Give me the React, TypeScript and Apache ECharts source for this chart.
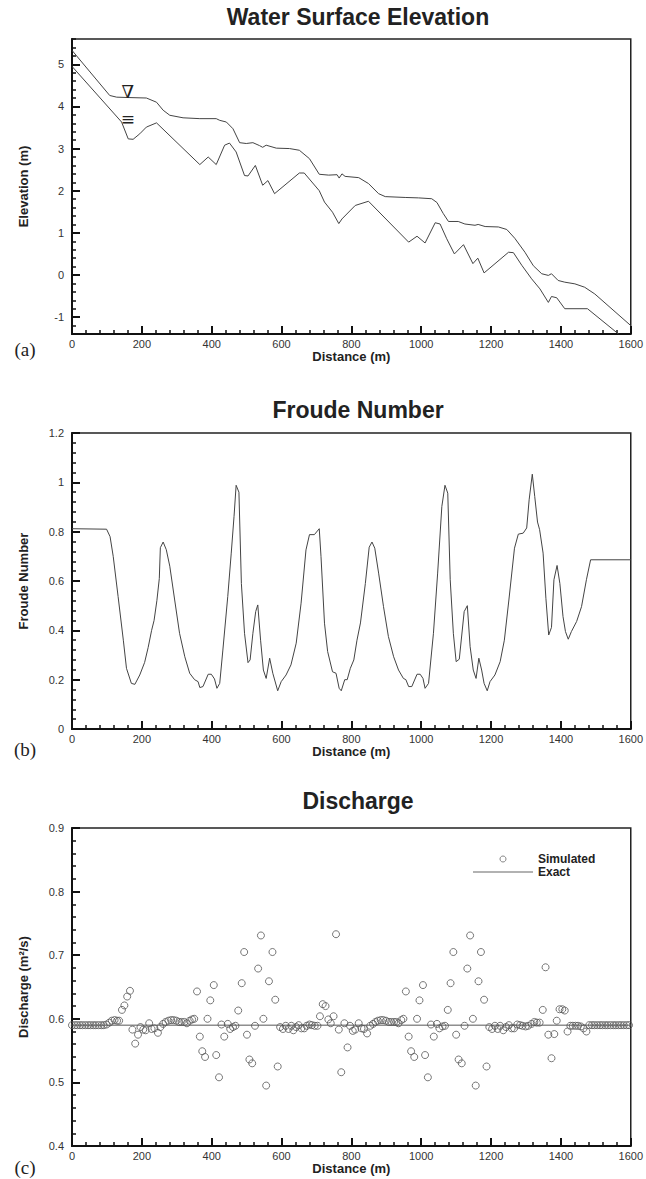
import React, { useEffect, useRef } from 'react';
import * as echarts from 'echarts';

const FONT = '"Liberation Sans", Arial, Helvetica, sans-serif';

const titles = ['Water Surface Elevation', 'Froude Number', 'Discharge'];
const panelLabels = ['(a)', '(b)', '(c)'];
const yNames = ['Elevation (m)', 'Froude Number', 'Discharge (m²/s)'];
const xName = 'Distance (m)';

const waterSurface: [number, number][] = [
  [0, 5.33], [108, 4.26], [128, 4.22], [166, 4.21], [213, 4.2], [242, 4.1], [261, 3.91], [280, 3.79],
  [318, 3.73], [366, 3.71], [413, 3.71], [423, 3.67], [442, 3.63], [461, 3.47], [480, 3.14], [499, 3.12],
  [518, 3.14], [537, 3.07], [546, 3.03], [556, 3.08], [585, 3.01], [623, 3.0], [651, 2.96], [680, 2.76],
  [708, 2.39], [735, 2.37], [759, 2.38], [765, 2.3], [773, 2.4], [782, 2.34], [821, 2.31], [849, 2.17],
  [878, 1.93], [897, 1.86], [954, 1.84], [992, 1.83], [1030, 1.81], [1045, 1.72], [1063, 1.46], [1078, 1.27],
  [1106, 1.27], [1125, 1.21], [1154, 1.18], [1163, 1.2], [1183, 1.15], [1221, 1.14], [1245, 1.08], [1268, 0.87],
  [1297, 0.54], [1321, 0.22], [1345, 0.03], [1364, -0.01], [1373, 0.03], [1392, -0.13], [1411, -0.17],
  [1440, -0.21], [1468, -0.29], [1497, -0.45], [1600, -1.2],
];

const bedElevation: [number, number][] = [
  [0, 4.95], [142, 3.63], [161, 3.23], [175, 3.22], [194, 3.35], [213, 3.51], [242, 3.61], [366, 2.62],
  [390, 2.8], [413, 2.62], [437, 3.08], [451, 3.13], [470, 2.92], [494, 2.36], [504, 2.35], [525, 2.6],
  [546, 2.13], [561, 2.24], [580, 1.93], [651, 2.42], [665, 2.42], [708, 2.0], [723, 1.73], [746, 1.49],
  [764, 1.22], [773, 1.33], [811, 1.65], [849, 1.75], [964, 0.78], [988, 0.92], [1011, 0.76], [1040, 1.24],
  [1054, 1.21], [1073, 0.86], [1095, 0.5], [1121, 0.72], [1148, 0.27], [1162, 0.4], [1180, 0.05], [1250, 0.54],
  [1264, 0.53], [1288, 0.23], [1316, -0.09], [1340, -0.33], [1364, -0.65], [1373, -0.51], [1388, -0.54],
  [1411, -0.8], [1476, -0.8], [1565, -1.4],
];

const froude: [number, number][] = [
  [0, 0.812], [99, 0.81], [109, 0.78], [118, 0.7], [132, 0.537], [147, 0.36], [156, 0.246], [170, 0.185],
  [180, 0.181], [194, 0.219], [208, 0.27], [218, 0.33], [228, 0.4], [235, 0.44], [243, 0.52], [250, 0.61],
  [253, 0.735], [261, 0.758], [270, 0.727], [280, 0.66], [294, 0.523], [308, 0.388], [323, 0.293], [337, 0.226],
  [351, 0.2], [361, 0.192], [366, 0.168], [375, 0.172], [390, 0.222], [399, 0.222], [408, 0.203], [415, 0.165],
  [423, 0.185], [432, 0.32], [446, 0.537], [456, 0.713], [464, 0.862], [470, 0.988], [478, 0.96], [485, 0.59],
  [494, 0.388], [504, 0.269], [510, 0.28], [518, 0.388], [526, 0.476], [532, 0.503], [540, 0.36], [548, 0.239],
  [556, 0.205], [566, 0.287], [575, 0.226], [589, 0.155], [599, 0.192], [613, 0.219], [627, 0.26], [642, 0.348],
  [656, 0.51], [670, 0.726], [680, 0.788], [694, 0.788], [708, 0.812], [713, 0.7], [723, 0.429], [732, 0.314],
  [746, 0.232], [756, 0.226], [765, 0.165], [771, 0.155], [781, 0.2], [788, 0.2], [797, 0.246], [807, 0.28],
  [816, 0.36], [826, 0.43], [840, 0.59], [851, 0.737], [859, 0.758], [867, 0.733], [878, 0.632], [892, 0.496],
  [906, 0.375], [921, 0.293], [935, 0.239], [949, 0.205], [956, 0.2], [964, 0.172], [973, 0.172], [988, 0.222],
  [997, 0.222], [1005, 0.205], [1011, 0.165], [1021, 0.185], [1035, 0.388], [1047, 0.632], [1059, 0.902],
  [1068, 0.988], [1076, 0.956], [1083, 0.605], [1092, 0.388], [1100, 0.273], [1109, 0.283], [1123, 0.476],
  [1132, 0.5], [1140, 0.334], [1149, 0.239], [1157, 0.205], [1165, 0.287], [1173, 0.239], [1180, 0.185],
  [1189, 0.155], [1197, 0.192], [1211, 0.219], [1226, 0.273], [1238, 0.36], [1251, 0.523], [1267, 0.733],
  [1278, 0.79], [1292, 0.794], [1302, 0.815], [1309, 0.929], [1318, 1.033], [1325, 0.943], [1333, 0.839],
  [1339, 0.808], [1349, 0.713], [1357, 0.53], [1365, 0.381], [1373, 0.412], [1380, 0.605], [1389, 0.663],
  [1397, 0.59], [1406, 0.456], [1413, 0.395], [1421, 0.364], [1430, 0.395], [1445, 0.436], [1459, 0.496],
  [1473, 0.605], [1485, 0.686], [1600, 0.686],
];

const dischargeSimulated: [number, number][] = [
  [0, 0.59], [8, 0.59], [15, 0.59], [23, 0.59], [30, 0.59], [38, 0.59], [46, 0.59], [53, 0.59], [61, 0.59],
  [68, 0.59], [76, 0.59], [84, 0.59], [91, 0.59], [99, 0.591], [107, 0.594], [114, 0.597], [122, 0.598],
  [129, 0.597], [135, 0.597], [143, 0.614], [150, 0.621], [158, 0.635], [166, 0.644], [173, 0.583], [181, 0.561],
  [189, 0.575], [196, 0.587], [204, 0.583], [211, 0.582], [221, 0.593], [228, 0.584], [236, 0.585], [246, 0.578],
  [253, 0.587], [261, 0.592], [268, 0.595], [276, 0.597], [284, 0.598], [291, 0.598], [299, 0.597], [307, 0.595],
  [314, 0.595], [322, 0.595], [329, 0.593], [337, 0.597], [344, 0.599], [350, 0.6], [358, 0.643], [366, 0.572],
  [373, 0.549], [381, 0.54], [388, 0.6], [396, 0.629], [406, 0.653], [413, 0.543], [421, 0.508], [428, 0.591],
  [436, 0.572], [446, 0.592], [453, 0.584], [461, 0.587], [468, 0.589], [476, 0.613], [486, 0.656], [493, 0.705],
  [501, 0.575], [508, 0.536], [516, 0.53], [524, 0.589], [533, 0.679], [541, 0.731], [548, 0.6], [556, 0.495],
  [564, 0.659], [574, 0.705], [582, 0.63], [589, 0.525], [596, 0.587], [604, 0.584], [612, 0.589], [620, 0.584],
  [628, 0.589], [634, 0.582], [642, 0.587], [649, 0.59], [657, 0.585], [665, 0.585], [672, 0.589], [680, 0.591],
  [687, 0.59], [695, 0.589], [703, 0.589], [710, 0.604], [718, 0.623], [726, 0.62], [734, 0.599], [741, 0.593],
  [749, 0.604], [756, 0.733], [764, 0.583], [771, 0.516], [780, 0.593], [789, 0.555], [796, 0.589], [804, 0.581],
  [811, 0.583], [821, 0.593], [829, 0.585], [836, 0.584], [845, 0.577], [854, 0.589], [862, 0.592], [869, 0.595],
  [876, 0.597], [884, 0.598], [891, 0.598], [899, 0.597], [907, 0.595], [914, 0.595], [922, 0.595], [929, 0.595],
  [935, 0.593], [943, 0.598], [949, 0.6], [956, 0.643], [964, 0.572], [971, 0.549], [980, 0.54], [988, 0.6],
  [995, 0.629], [1005, 0.653], [1011, 0.543], [1019, 0.508], [1028, 0.591], [1036, 0.572], [1045, 0.592],
  [1052, 0.585], [1061, 0.588], [1068, 0.589], [1076, 0.614], [1084, 0.656], [1092, 0.705], [1100, 0.575],
  [1107, 0.536], [1116, 0.53], [1124, 0.589], [1132, 0.679], [1140, 0.731], [1148, 0.6], [1156, 0.495],
  [1164, 0.659], [1171, 0.705], [1180, 0.63], [1187, 0.525], [1195, 0.587], [1203, 0.584], [1211, 0.589],
  [1219, 0.584], [1226, 0.589], [1235, 0.582], [1243, 0.587], [1251, 0.59], [1259, 0.585], [1266, 0.585],
  [1275, 0.591], [1283, 0.59], [1290, 0.589], [1299, 0.588], [1306, 0.589], [1316, 0.592], [1324, 0.595],
  [1331, 0.594], [1339, 0.594], [1348, 0.614], [1356, 0.681], [1364, 0.575], [1373, 0.538], [1381, 0.576],
  [1388, 0.597], [1396, 0.615], [1404, 0.615], [1411, 0.613], [1419, 0.58], [1427, 0.589], [1434, 0.589],
  [1442, 0.589], [1449, 0.589], [1457, 0.588], [1465, 0.585], [1473, 0.58], [1481, 0.59], [1489, 0.59],
  [1496, 0.59], [1504, 0.59], [1512, 0.59], [1519, 0.59], [1527, 0.59], [1534, 0.59], [1542, 0.59], [1550, 0.59],
  [1557, 0.59], [1565, 0.59], [1572, 0.59], [1580, 0.59], [1588, 0.59], [1595, 0.59],
];

const dischargeExact: [number, number][] = [[0, 0.59], [1600, 0.59]];

const surfaceMarker: [number, number] = [160, 4.36];
const bedMarker: [number, number] = [160, 3.7];

const GRIDS = [
  { left: 72, top: 39, width: 561, height: 295 },
  { left: 72, top: 433, width: 561, height: 296 },
  { left: 72, top: 828, width: 561, height: 318 },
];
const TITLE_TOPS = [0, 393, 784];
const LABEL_POS = [[25, 349], [25, 749], [25, 1167]];

const INK = '#111';
const LINE = '#444';

const plain = (v: number) => String(Math.round(v * 1000) / 1000);

const majorTick = { show: true, inside: true, length: 8, lineStyle: { color: INK, width: 2 } };
const minorTickStyle = { show: true, splitNumber: 5, length: 4, lineStyle: { color: INK, width: 1.5 } };

export default function App() {
  const ref = useRef<HTMLDivElement>(null);
  useEffect(() => {
    if (!ref.current) return;
    const chart = echarts.init(ref.current, undefined, { renderer: 'svg' });

    const xAxisBase = (i: number) => ({
      type: 'value',
      gridIndex: i,
      min: 0,
      max: 1600,
      interval: 200,
      name: xName,
      nameLocation: 'middle',
      nameGap: 15,
      nameTextStyle: { fontSize: 13, fontWeight: 'bold', color: '#222', fontFamily: FONT },
      axisLine: { show: true, onZero: false, lineStyle: { color: INK, width: 2 } },
      axisTick: majorTick,
      minorTick: minorTickStyle,
      axisLabel: { margin: 4, fontSize: 11, color: '#333', fontFamily: FONT, formatter: plain },
      splitLine: { show: false },
    });

    const yName = (i: number) => ({
      name: yNames[i],
      nameLocation: 'middle',
      nameGap: 42,
      nameTextStyle: { fontSize: 13, fontWeight: 'bold', color: '#222', fontFamily: FONT },
    });
    const yCommon = {
      type: 'value',
      position: 'left',
      axisLine: { show: true, onZero: false, lineStyle: { color: INK, width: 2 } },
      axisTick: majorTick,
      axisLabel: { margin: 8, fontSize: 11, color: '#333', fontFamily: FONT, formatter: plain },
      splitLine: { show: false },
    };

    const option: any = {
      animation: false,
      backgroundColor: '#fff',
      textStyle: { fontFamily: FONT },
      title: titles.map((t, i) => ({
        text: t,
        left: 353,
        top: TITLE_TOPS[i],
        textAlign: 'center',
        textStyle: { fontSize: 23, fontWeight: 'bold', color: '#222', fontFamily: FONT },
      })),
      grid: GRIDS.map((g) => ({ ...g, show: true, borderColor: '#222', borderWidth: 1.5 })),
      xAxis: [xAxisBase(0), xAxisBase(1), xAxisBase(2)],
      yAxis: [
        {
          ...yCommon,
          ...yName(0),
          gridIndex: 0,
          min: -1.4,
          max: 5.6,
          axisLabel: { ...yCommon.axisLabel, showMinLabel: false, showMaxLabel: false },
        },
        {
          type: 'value',
          gridIndex: 0,
          position: 'left',
          min: -1.4,
          max: 5.6,
          interval: 0.2,
          axisLine: { show: false },
          axisTick: { show: true, inside: true, length: 4, lineStyle: { color: INK, width: 1.5 } },
          axisLabel: { show: false },
          splitLine: { show: false },
        },
        {
          ...yCommon,
          ...yName(1),
          gridIndex: 1,
          min: 0,
          max: 1.2,
          interval: 0.2,
          minorTick: minorTickStyle,
        },
        {
          ...yCommon,
          ...yName(2),
          gridIndex: 2,
          min: 0.4,
          max: 0.9,
          interval: 0.1,
          minorTick: minorTickStyle,
        },
      ],
      legend: {
        data: [
          {
            name: 'Simulated',
            icon: 'circle',
            itemStyle: { color: 'rgba(255,255,255,0)', borderColor: '#666', borderWidth: 1 },
          },
          { name: 'Exact', icon: 'path://M0,0H60V1H0Z', itemStyle: { color: '#666' } },
        ],
        orient: 'vertical',
        left: 468,
        top: 848,
        itemWidth: 60,
        itemHeight: 6,
        itemGap: 1,
        textStyle: { fontSize: 12, fontWeight: 'bold', color: '#222', fontFamily: FONT },
      },
      graphic: panelLabels.map((t, i) => ({
        type: 'text',
        x: LABEL_POS[i][0],
        y: LABEL_POS[i][1],
        style: {
          text: t,
          fill: '#222',
          font: '19px "Liberation Serif", "Times New Roman", serif',
          align: 'center',
          verticalAlign: 'middle',
        },
      })),
      series: [
        {
          name: 'Water surface',
          type: 'line',
          xAxisIndex: 0,
          yAxisIndex: 0,
          data: waterSurface,
          symbol: 'none',
          showSymbol: false,
          lineStyle: { color: LINE, width: 1 },
          markPoint: {
            silent: true,
            symbol: 'rect',
            symbolSize: 1,
            itemStyle: { color: 'rgba(0,0,0,0)' },
            label: { show: true, position: 'inside', color: '#222', fontFamily: '"DejaVu Serif", serif' },
            data: [
              { name: 'surface', coord: surfaceMarker, label: { formatter: '∇', fontSize: 18 } },
              { name: 'bed', coord: bedMarker, label: { formatter: '≡', fontSize: 17 } },
            ],
          },
        },
        {
          name: 'Bed',
          type: 'line',
          xAxisIndex: 0,
          yAxisIndex: 0,
          data: bedElevation,
          symbol: 'none',
          showSymbol: false,
          lineStyle: { color: LINE, width: 1 },
        },
        {
          name: 'Froude',
          type: 'line',
          xAxisIndex: 1,
          yAxisIndex: 2,
          data: froude,
          symbol: 'none',
          showSymbol: false,
          lineStyle: { color: LINE, width: 1 },
        },
        {
          name: 'Exact',
          type: 'line',
          xAxisIndex: 2,
          yAxisIndex: 3,
          data: dischargeExact,
          symbol: 'none',
          showSymbol: false,
          itemStyle: { color: '#555' },
          lineStyle: { color: '#555', width: 1 },
        },
        {
          name: 'Simulated',
          type: 'scatter',
          xAxisIndex: 2,
          yAxisIndex: 3,
          data: dischargeSimulated,
          symbol: 'circle',
          symbolSize: 7,
          itemStyle: { color: 'rgba(255,255,255,0)', borderColor: '#555', borderWidth: 1 },
        },
      ],
    };
    chart.setOption(option);
    return () => chart.dispose();
  }, []);

  return (
    <div
      ref={ref}
      style={{ position: 'absolute', left: 0, top: 0, width: 646, height: 1179, background: '#fff' }}
    />
  );
}
